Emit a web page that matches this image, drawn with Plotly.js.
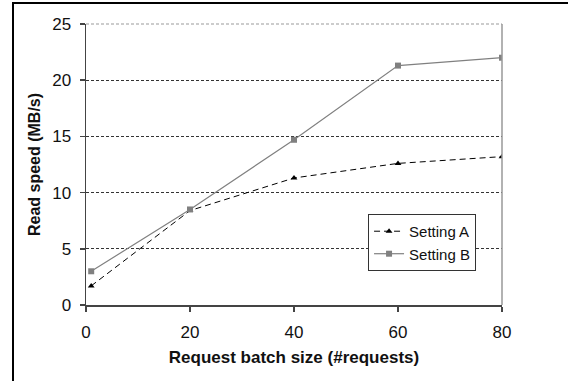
<!DOCTYPE html>
<html>
<head>
<meta charset="utf-8">
<script src="https://cdn.plot.ly/plotly-3.0.1.min.js"></script>
<style>
html,body{margin:0;padding:0;background:#fff;}
#wrap{position:relative;width:568px;height:381px;}
#chart{position:absolute;left:0;top:0;width:568px;height:381px;}
#frame{position:absolute;left:12px;top:2px;width:560px;height:390px;border-top:2px solid #000;border-left:2px solid #000;pointer-events:none;}
</style>
</head>
<body>
<div id="wrap"><div id="chart"></div><div id="frame"></div></div>
<script>
const batchSize = [1, 20, 40, 60, 80];
const settingA = [1.7, 8.4, 11.3, 12.6, 13.2];
const settingB = [3.0, 8.5, 14.7, 21.3, 22.0];
const seriesNames = ["Setting A", "Setting B"];
const xTicks = [0, 20, 40, 60, 80];
const yTicks = [0, 5, 10, 15, 20, 25];

const traces = [
  {x: batchSize, y: settingA, name: seriesNames[0], mode: "lines+markers",
   line: {color: "#000", width: 1, dash: "6px,4px"},
   marker: {symbol: "triangle-up", size: 6, color: "#000"}},
  {x: batchSize, y: settingB, name: seriesNames[1], mode: "lines+markers",
   line: {color: "#808080", width: 1.2},
   marker: {symbol: "square", size: 6, color: "#808080"}}
];

const layout = {
  width: 568, height: 381,
  margin: {l: 86, r: 66, t: 24, b: 76},
  paper_bgcolor: "#fff", plot_bgcolor: "#fff",
  font: {family: "Liberation Sans, Arial, sans-serif", color: "#111", size: 17},
  showlegend: true,
  legend: {x: 0.678, y: 0.324, xanchor: "left", yanchor: "top",
    bgcolor: "#fff", bordercolor: "#333", borderwidth: 1,
    font: {size: 15, color: "#111"}, tracegroupgap: 0, itemwidth: 30},
  xaxis: {range: [0, 80], tickvals: xTicks, showgrid: false, zeroline: false,
    showline: true, linecolor: "#444", linewidth: 1.5,
    ticks: "outside", ticklen: 5, tickcolor: "#444", tickwidth: 1.5,
    ticklabelstandoff: 6,
    tickfont: {size: 17}, fixedrange: true,
    title: {text: "<b>Request batch size (#requests)</b>", font: {size: 17}, standoff: 10}},
  yaxis: {range: [0, 25], tickvals: yTicks, showgrid: true, gridcolor: "#000",
    gridwidth: 0.8, griddash: "3px,2px", zeroline: false,
    showline: true, linecolor: "#444", linewidth: 1.5,
    ticks: "outside", ticklen: 5, tickcolor: "#444", tickwidth: 1.5,
    ticklabelstandoff: 5,
    tickfont: {size: 17}, fixedrange: true,
    title: {text: "<b>Read speed (MB/s)</b>", font: {size: 16}, standoff: 7}},
  shapes: [
    {type: "line", xref: "paper", yref: "paper", x0: 1, x1: 1, y0: 0, y1: 1,
     line: {color: "#999", width: 1.5}},
    {type: "line", xref: "paper", yref: "paper", x0: 0, x1: 1, y0: 1, y1: 1,
     line: {color: "#999", width: 1.2, dash: "3px,2px"}}
  ]
};

Plotly.newPlot("chart", traces, layout, {displayModeBar: false, staticPlot: true});
</script>
</body>
</html>
